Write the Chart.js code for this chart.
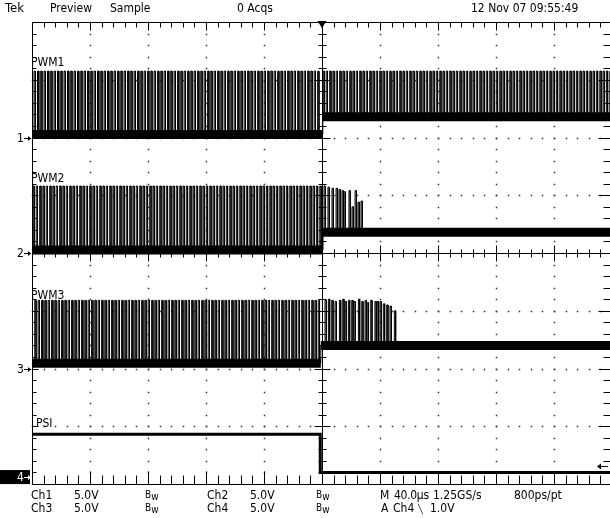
<!DOCTYPE html>
<html><head><meta charset="utf-8">
<script src="https://cdn.jsdelivr.net/npm/chart.js@4.4.1/dist/chart.umd.min.js"></script>
<style>
html,body{margin:0;padding:0;background:#fff;overflow:hidden;width:610px;height:518px;}
#wrap{position:relative;width:610px;height:518px;overflow:hidden;}
#c{position:absolute;left:0;top:0;width:620px;height:518px;}
.t{position:absolute;font-family:"Liberation Sans Narrow","DejaVu Sans Condensed","Liberation Sans",Arial,sans-serif;font-stretch:condensed;font-size:12px;line-height:12px;color:#000;white-space:nowrap;}
.bw{font-size:10px;}
.bw i{font-style:normal;position:relative;top:2px;}
</style></head>
<body><div id="wrap"><canvas id="c" width="620" height="518"></canvas>
<div class="t" style="left:5px;top:2px;font-size:13px">Tek</div>
<div class="t" style="left:50px;top:2px">Preview</div>
<div class="t" style="left:110px;top:2px">Sample</div>
<div class="t" style="left:237px;top:2px">0 Acqs</div>
<div class="t" style="left:471px;top:2px">12 Nov 07 09:55:49</div>
<div class="t" style="left:31px;top:489px">Ch1</div>
<div class="t" style="left:74px;top:489px">5.0V</div>
<div class="t bw" style="left:145px;top:489px">B<i>w</i></div>
<div class="t" style="left:207px;top:489px">Ch2</div>
<div class="t" style="left:250px;top:489px">5.0V</div>
<div class="t bw" style="left:316px;top:489px">B<i>w</i></div>
<div class="t" style="left:380px;top:489px">M</div>
<div class="t" style="left:394px;top:489px;letter-spacing:-0.3px">40.0µs</div>
<div class="t" style="left:433px;top:489px">1.25GS/s</div>
<div class="t" style="left:514px;top:489px">800ps/pt</div>
<div class="t" style="left:31px;top:502px">Ch3</div>
<div class="t" style="left:74px;top:502px">5.0V</div>
<div class="t bw" style="left:145px;top:502px">B<i>w</i></div>
<div class="t" style="left:207px;top:502px">Ch4</div>
<div class="t" style="left:250px;top:502px">5.0V</div>
<div class="t bw" style="left:316px;top:502px">B<i>w</i></div>
<div class="t" style="left:381px;top:502px">A</div>
<div class="t" style="left:393px;top:502px">Ch4</div>
<div class="t" style="left:418px;top:503px;font-size:9px">╲</div>
<div class="t" style="left:430px;top:502px">1.0V</div>
<div class="t" style="left:31px;top:56px">PWM1</div>
<div class="t" style="left:31px;top:172px">PWM2</div>
<div class="t" style="left:31px;top:289px">PWM3</div>
<div class="t" style="left:36px;top:417px">PSI</div>
<div class="t" id="m1">1</div>
<div class="t" id="m2">2</div>
<div class="t" id="m3">3</div>
<div class="t" id="m4" style="color:#fff">4</div>
</div>
<script>
// ---- scope settings ----
const timeMin = -200, timeMax = 200;      // µs (40 µs/div, trigger at centre)
const voltsPerDiv = 5;
const divisionsY = 8;
const groundDiv = [6, 4, 2, 0.12];          // channel ground markers (divisions from bottom)
const triggerLevel = 1.0;                   // V on Ch4

// ---- levels (V) ----
const lowBefore = [0.25, 0.25, 0.45, 3.7];
const lowAfter  = [1.8, 1.8, 2.0, 0.4];
const highLevel = [5.75, 5.8, 5.9];
const stepTime  = [0.5, 0.7, -0.8, -1.2];   // µs
const pulseWidth = 0.9;                     // µs

// ---- pulse start times (µs) ----
const pwm1Before = [-198.6,-196.2,-194.0,-191.7,-189.3,-187.1,-184.8,-182.4,-180.2,-177.9,-175.5,-173.3,-171.0,-168.6,-166.4,-164.1,-161.7,-159.5,-157.2,-154.8,-152.6,-150.3,-147.9,-145.7,-143.4,-141.0,-138.8,-136.5,-134.1,-131.9,-129.6,-127.2,-125.0,-122.7,-120.3,-118.1,-115.8,-113.4,-111.2,-108.9,-106.5,-104.3,-102.0,-99.6,-97.4,-95.1,-92.7,-90.5,-88.2,-85.8,-83.6,-81.3,-78.9,-76.7,-74.4,-72.0,-69.8,-67.5,-65.1,-62.9,-60.6,-58.2,-56.0,-53.7,-51.3,-49.1,-46.8,-44.4,-42.2,-39.9,-37.5,-35.3,-33.0,-30.6,-28.4,-26.1,-23.7,-21.5,-19.2,-16.8,-14.6,-12.3,-9.9,-7.7,-5.4,-3.0];
const pwm1After = [0.6,2.9,5.3,7.5,9.8,12.2,14.4,16.7,19.1,21.3,23.6,26.0,28.2,30.5,32.9,35.1,37.4,39.8,42.0,44.3,46.7,48.9,51.2,53.6,55.8,58.1,60.5,62.7,65.0,67.4,69.6,71.9,74.3,76.5,78.8,81.2,83.4,85.7,88.1,90.3,92.6,95.0,97.2,99.5,101.9,104.1,106.4,108.8,111.0,113.3,115.7,117.9,120.2,122.6,124.8,127.1,129.5,131.7,134.0,136.4,138.6,140.9,143.3,145.5,147.8,150.2,152.4,154.7,157.1,159.3,161.6,164.0,166.2,168.5,170.9,173.1,175.4,177.8,180.0,182.3,184.7,186.9,189.2,191.6,193.8,196.1,198.5];
const pwm2Before = [-199.4,-197.1,-194.7,-192.5,-190.2,-187.8,-185.6,-183.3,-180.9,-178.7,-176.4,-174.0,-171.8,-169.5,-167.1,-164.9,-162.6,-160.2,-158.0,-155.7,-153.3,-151.1,-148.8,-146.4,-144.2,-141.9,-139.5,-137.3,-135.0,-132.6,-130.4,-128.1,-125.7,-123.5,-121.2,-118.8,-116.6,-114.3,-111.9,-109.7,-107.4,-105.0,-102.8,-100.5,-98.1,-95.9,-93.6,-91.2,-89.0,-86.7,-84.3,-82.1,-79.8,-77.4,-75.2,-72.9,-70.5,-68.3,-66.0,-63.6,-61.4,-59.1,-56.7,-54.5,-52.2,-49.8,-47.6,-45.3,-42.9,-40.7,-38.4,-36.0,-33.8,-31.5,-29.1,-26.9,-24.6,-22.2,-20.0,-17.7,-15.3,-13.1,-10.8,-8.4,-6.2,-3.9,-1.5];
const pwm2After = [1.4,4.1,6.9,9.7,11.7,13.8,15.2,18.6,20.7,22.8,24.8,26.9];
const pwm2AfterHigh = [5.8,5.7,5.6,5.6,5.5,5.4,5.3,5.4,4.0,5.4,4.4,4.5];
const pwm3Before = [-198.1,-195.8,-193.4,-191.2,-188.9,-186.5,-184.3,-182.0,-179.6,-177.4,-175.1,-172.7,-170.5,-168.2,-165.8,-163.6,-161.3,-158.9,-156.7,-154.4,-152.0,-149.8,-147.5,-145.1,-142.9,-140.6,-138.2,-136.0,-133.7,-131.3,-129.1,-126.8,-124.4,-122.2,-119.9,-117.5,-115.3,-113.0,-110.6,-108.4,-106.1,-103.7,-101.5,-99.2,-96.8,-94.6,-92.3,-89.9,-87.7,-85.4,-83.0,-80.8,-78.5,-76.1,-73.9,-71.6,-69.2,-67.0,-64.7,-62.3,-60.1,-57.8,-55.4,-53.2,-50.9,-48.5,-46.3,-44.0,-41.6,-39.4,-37.1,-34.7,-32.5,-30.2,-27.8,-25.6,-23.3,-20.9,-18.7,-16.4,-14.0,-11.8,-9.5,-7.1,-4.9,-2.6];
const pwm3After = [2.1,4.4,6.7,9.0,12.0,14.3,15.9,18.2,20.5,22.1,25.1,27.4,29.7,31.2,33.6,36.5,38.1,40.0,42.3,44.6,46.9,49.9];
const pwm3AfterHigh = [5.9,6.0,5.9,5.8,5.9,6.0,5.8,5.9,5.9,5.8,6.0,5.8,5.9,5.7,5.9,5.8,5.8,5.8,5.6,5.5,5.4,5.0];

// ---- build datasets ----
const toDiv = (ch, v) => groundDiv[ch] + v / voltsPerDiv;
function pulseTrace(ch, before, after, afterHigh) {
  const pts = [{x: timeMin, y: toDiv(ch, lowBefore[ch])}];
  const add = (s, low, hi) => {
    pts.push({x: s, y: toDiv(ch, low)}, {x: s, y: toDiv(ch, hi)},
             {x: s + pulseWidth, y: toDiv(ch, hi)}, {x: s + pulseWidth, y: toDiv(ch, low)});
  };
  before.forEach(s => add(s, lowBefore[ch], highLevel[ch]));
  pts.push({x: stepTime[ch], y: toDiv(ch, lowBefore[ch])}, {x: stepTime[ch], y: toDiv(ch, lowAfter[ch])});
  after.forEach((s, i) => add(s, lowAfter[ch], afterHigh ? afterHigh[i] : highLevel[ch]));
  pts.push({x: timeMax, y: toDiv(ch, lowAfter[ch])});
  return pts;
}
function band(ch) {
  return [{x: timeMin, y: toDiv(ch, lowBefore[ch])}, {x: stepTime[ch], y: toDiv(ch, lowBefore[ch])},
          {x: stepTime[ch], y: null},
          {x: stepTime[ch], y: toDiv(ch, lowAfter[ch])}, {x: timeMax, y: toDiv(ch, lowAfter[ch])}];
}
const lineDs = (data, w) => ({data, showLine: true, borderColor: '#000', borderWidth: w,
  pointRadius: 0, fill: false, spanGaps: false, borderCapStyle: 'butt', borderJoinStyle: 'miter'});

const datasets = [
  lineDs(band(0), 9), lineDs(band(1), 9), lineDs(band(2), 9),
  lineDs(pulseTrace(0, pwm1Before, pwm1After), 1),
  lineDs(pulseTrace(1, pwm2Before, pwm2After, pwm2AfterHigh), 1),
  lineDs(pulseTrace(2, pwm3Before, pwm3After, pwm3AfterHigh), 1),
  lineDs([{x: timeMin, y: toDiv(3, lowBefore[3])}, {x: stepTime[3], y: toDiv(3, lowBefore[3])},
          {x: stepTime[3], y: toDiv(3, lowAfter[3])}, {x: timeMax, y: toDiv(3, lowAfter[3])}], 3)
];

const graticule = {
  id: 'graticule',
  beforeDatasetsDraw(chart) {
    const {ctx, scales: {x, y}} = chart;
    const X = v => Math.round(x.getPixelForValue(v)) + 0.5;
    const Y = v => Math.round(y.getPixelForValue(v)) + 0.5;
    const minorX = (timeMax - timeMin) / 50, majorX = (timeMax - timeMin) / 10;
    ctx.save();
    ctx.fillStyle = '#333';
    for (let k = 1; k < 10; k++) {
      if (k === 5) continue;
      const px = X(timeMin + k * majorX);
      for (let j = 0; j <= divisionsY * 5; j++) ctx.fillRect(px - 0.75, Y(j * 0.2) - 0.75, 1.5, 1.5);
    }
    for (let k = 1; k < divisionsY; k++) {
      if (k === divisionsY / 2) continue;
      const py = Y(k);
      for (let j = 0; j <= 50; j++) ctx.fillRect(X(timeMin + j * minorX) - 0.75, py - 0.75, 1.5, 1.5);
    }
    ctx.strokeStyle = '#000'; ctx.lineWidth = 1;
    ctx.beginPath();
    const cx = X(0), cy = Y(divisionsY / 2);
    const L = X(timeMin), R = X(timeMax), T = Y(divisionsY), B = Y(0);
    ctx.moveTo(L, T); ctx.lineTo(R, T); ctx.moveTo(L, B); ctx.lineTo(R, B);
    ctx.moveTo(L, T); ctx.lineTo(L, B); ctx.moveTo(R, T); ctx.lineTo(R, B);
    ctx.moveTo(cx, T); ctx.lineTo(cx, B); ctx.moveTo(L, cy); ctx.lineTo(R, cy);
    for (let j = 0; j <= 50; j++) {
      const px = X(timeMin + j * minorX), major = j % 5 === 0;
      ctx.moveTo(px, cy - (major ? 8 : 4)); ctx.lineTo(px, cy + (major ? 8 : 4));
      ctx.moveTo(px, T); ctx.lineTo(px, T + (major ? 8 : 5));
      ctx.moveTo(px, B); ctx.lineTo(px, B - (major ? 13 : 9));
    }
    for (let j = 0; j <= divisionsY * 5; j++) {
      const py = Y(j * 0.2), major = j % 5 === 0;
      ctx.moveTo(cx - (major ? 8 : 4), py); ctx.lineTo(cx + (major ? 8 : 4), py);
      ctx.moveTo(L, py); ctx.lineTo(L + (major ? 6 : 4), py);
      ctx.moveTo(R, py); ctx.lineTo(R - (major ? 14 : 9), py);
    }
    ctx.stroke();
    ctx.restore();
  },
  afterDatasetsDraw(chart) {
    const {ctx, scales: {x, y}} = chart;
    ctx.save();
    ctx.fillStyle = '#000'; ctx.strokeStyle = '#000'; ctx.lineWidth = 1;
    // trigger position
    const tx = x.getPixelForValue(0), top = y.getPixelForValue(divisionsY);
    ctx.beginPath(); ctx.moveTo(tx - 4.5, top - 1); ctx.lineTo(tx + 4.5, top - 1); ctx.lineTo(tx, top + 6); ctx.closePath(); ctx.fill();
    // channel markers
    const L = x.getPixelForValue(timeMin);
    const b4 = y.getPixelForValue(groundDiv[3]);
    ctx.fillRect(0, b4 - 7, L - 2, 14);
    groundDiv.forEach((g, i) => {
      const py = Math.round(y.getPixelForValue(g)) + 0.5;
      ctx.strokeStyle = ctx.fillStyle = i === 3 ? '#fff' : '#000';
      ctx.beginPath(); ctx.moveTo(L - 8, py); ctx.lineTo(L - 1, py); ctx.stroke();
      ctx.beginPath(); ctx.moveTo(L - 1, py); ctx.lineTo(L - 4, py - 2.5); ctx.lineTo(L - 4, py + 2.5); ctx.closePath(); ctx.fill();
      const el = document.getElementById('m' + (i + 1));
      el.style.left = (L - 15) + 'px'; el.style.top = (py - 6.5) + 'px';
    });
    // trigger level arrow
    const ty = Math.round(y.getPixelForValue(toDiv(3, triggerLevel))) + 0.5;
    ctx.strokeStyle = ctx.fillStyle = '#000';
    ctx.beginPath(); ctx.moveTo(608, ty); ctx.lineTo(598, ty); ctx.stroke();
    ctx.beginPath(); ctx.moveTo(597, ty); ctx.lineTo(601, ty - 3); ctx.lineTo(601, ty + 3); ctx.closePath(); ctx.fill();
    ctx.restore();
  }
};

new Chart(document.getElementById('c'), {
  type: 'scatter',
  data: {datasets},
  options: {
    responsive: false, animation: false, events: [], parsing: false,
    layout: {padding: {left: 32, right: 8, top: 22, bottom: 34}},
    scales: {
      x: {type: 'linear', min: timeMin, max: timeMax, display: false},
      y: {type: 'linear', min: 0, max: divisionsY, display: false}
    },
    plugins: {legend: {display: false}, tooltip: {enabled: false}}
  },
  plugins: [graticule]
});
</script></body></html>
